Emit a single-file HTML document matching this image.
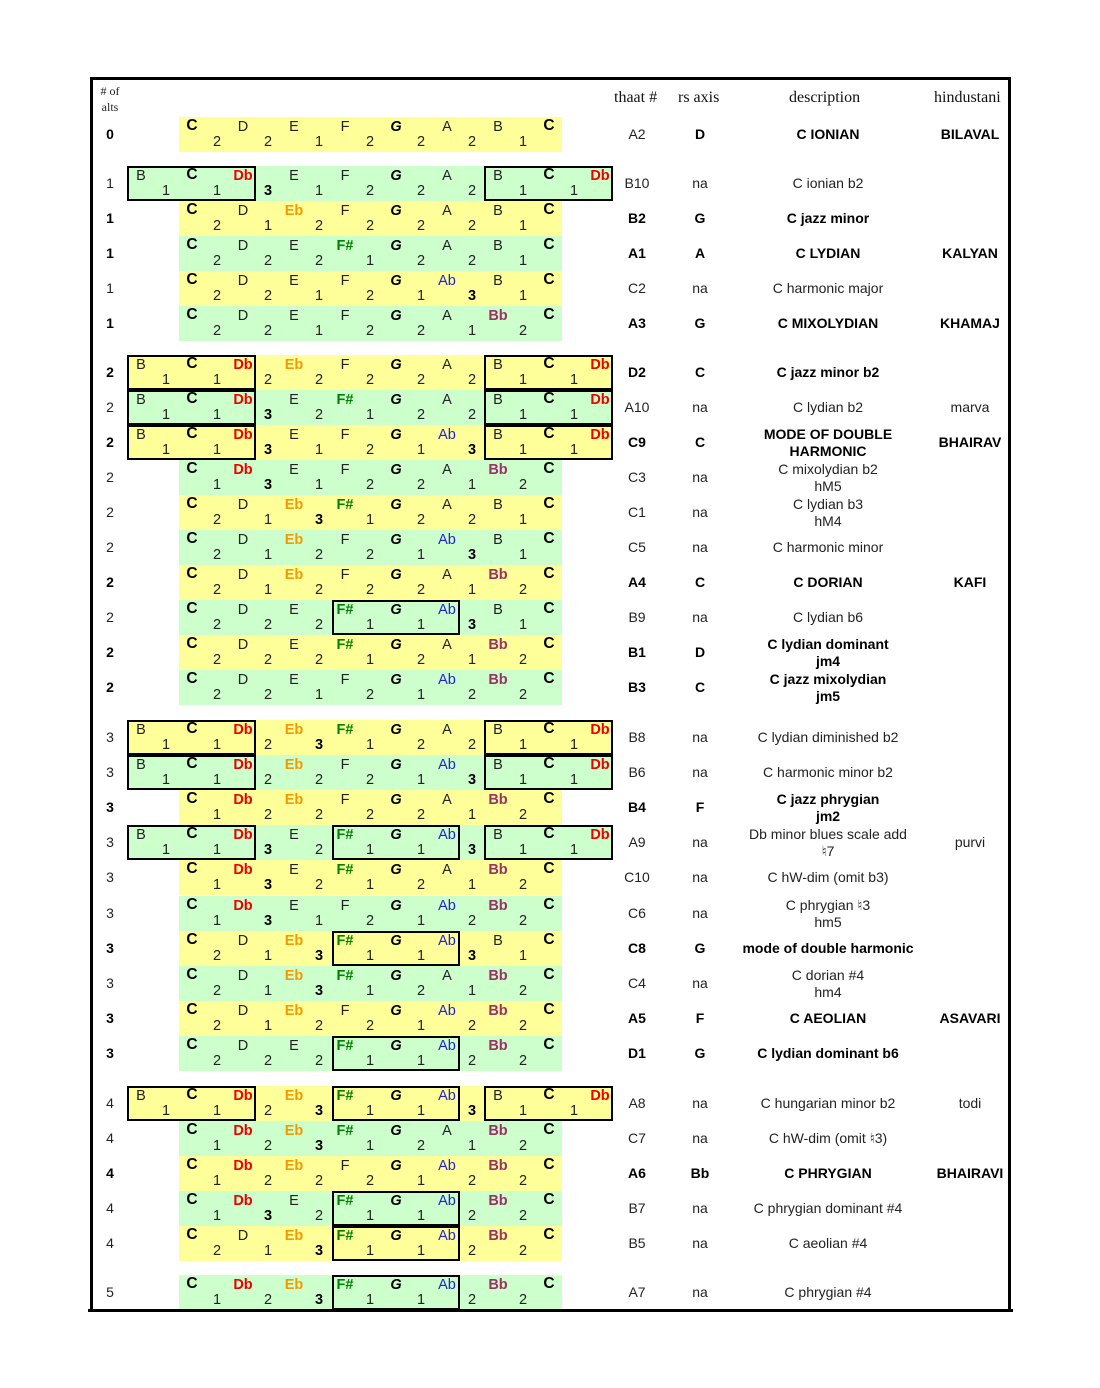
<!DOCTYPE html>
<html><head><meta charset="utf-8"><style>
body{margin:0;width:1100px;height:1388px;background:#fff;position:relative;font-family:"Liberation Sans",Arial,sans-serif;overflow:hidden}
#fr{position:absolute;left:90px;top:77px;width:915px;height:1229px;border:3px solid #000}
.r{position:absolute;left:0;width:1100px;height:35px}
.bd{position:absolute;left:179px;width:383px;top:0;height:35px}
.x .bd{left:127px;width:486px}
.Y .bd{background:#ffff99}.G .bd{background:#ccffcc}
.bx{position:absolute;top:0;height:31px;border:2px solid #000}
.lb{left:127px;width:125px}.rb{left:484px;width:125px}.mb{left:332px;width:124px}
.r span{position:absolute;width:50px;text-align:center;font-size:14.5px;line-height:16px;color:#222}
.r span.t{top:1.5px}.r span.i{top:17px}
.p0{left:116px}.p1{left:167px}.p2{left:218px}.p3{left:269px}.p4{left:320px}.p5{left:371px}.p6{left:422px}.p7{left:473px}.p8{left:524px}.p9{left:575px}
.q0{left:141px}.q1{left:192px}.q2{left:243px}.q3{left:294px}.q4{left:345px}.q5{left:396px}.q6{left:447px}.q7{left:498px}.q8{left:549px}
.r span.c{font-weight:bold;color:#000;font-size:15.5px;top:0.5px}
.r span.g{font-weight:bold;font-style:italic;color:#000}
.r span.db{font-weight:bold;color:#ee0000}
.r span.eb{font-weight:bold;color:#f39a00}
.r span.fs{font-weight:bold;color:#008000}
.r span.ab{color:#2222dd}
.r span.bb{font-weight:bold;color:#993366}
.r span.b3{font-weight:bold;color:#000}
.r div.k{position:absolute;text-align:center;font-size:14px;color:#222;line-height:35px;top:0}
.r div.k2{line-height:17px;top:0.5px}
.al{left:95px;width:30px}.th{left:612px;width:50px}.rs{left:675px;width:50px}.de{left:723px;width:210px}.hi{left:925px;width:90px}
.b{font-weight:bold;color:#000!important}
.hd{position:absolute;font-family:"Liberation Serif",serif;font-size:16px;color:#111;top:89px}
</style></head><body>
<div id="fr"></div>
<div style="position:absolute;left:95px;top:83px;font-family:'Liberation Serif',serif;font-size:12px;line-height:16px;color:#222;text-align:center;width:30px">#&nbsp;of<br>alts</div>
<div class="hd" style="left:614px">thaat #</div>
<div class="hd" style="left:678px">rs axis</div>
<div class="hd" style="left:789px">description</div>
<div class="hd" style="left:934px">hindustani</div>

<div class="r Y" style="top:117px"><div class="bd"></div>
<span class="t c p1">C</span><span class="t p2">D</span><span class="t p3">E</span><span class="t p4">F</span><span class="t g p5">G</span><span class="t p6">A</span><span class="t p7">B</span><span class="t c p8">C</span>
<span class="i q1">2</span><span class="i q2">2</span><span class="i q3">1</span><span class="i q4">2</span><span class="i q5">2</span><span class="i q6">2</span><span class="i q7">1</span>
<div class="k al b">0</div><div class="k th">A2</div><div class="k rs b">D</div><div class="k de b">C IONIAN</div><div class="k hi b">BILAVAL</div></div>

<div class="r G x" style="top:166px"><div class="bd"></div><div class="bx lb"></div><div class="bx rb"></div>
<span class="t p0">B</span><span class="t c p1">C</span><span class="t db p2">Db</span><span class="t p3">E</span><span class="t p4">F</span><span class="t g p5">G</span><span class="t p6">A</span><span class="t p7">B</span><span class="t c p8">C</span><span class="t db p9">Db</span>
<span class="i q0">1</span><span class="i q1">1</span><span class="i b3 q2">3</span><span class="i q3">1</span><span class="i q4">2</span><span class="i q5">2</span><span class="i q6">2</span><span class="i q7">1</span><span class="i q8">1</span>
<div class="k al">1</div><div class="k th">B10</div><div class="k rs">na</div><div class="k de">C ionian b2</div></div>

<div class="r Y" style="top:201px"><div class="bd"></div>
<span class="t c p1">C</span><span class="t p2">D</span><span class="t eb p3">Eb</span><span class="t p4">F</span><span class="t g p5">G</span><span class="t p6">A</span><span class="t p7">B</span><span class="t c p8">C</span>
<span class="i q1">2</span><span class="i q2">1</span><span class="i q3">2</span><span class="i q4">2</span><span class="i q5">2</span><span class="i q6">2</span><span class="i q7">1</span>
<div class="k al b">1</div><div class="k th b">B2</div><div class="k rs b">G</div><div class="k de b">C jazz minor</div></div>

<div class="r G" style="top:236px"><div class="bd"></div>
<span class="t c p1">C</span><span class="t p2">D</span><span class="t p3">E</span><span class="t fs p4">F#</span><span class="t g p5">G</span><span class="t p6">A</span><span class="t p7">B</span><span class="t c p8">C</span>
<span class="i q1">2</span><span class="i q2">2</span><span class="i q3">2</span><span class="i q4">1</span><span class="i q5">2</span><span class="i q6">2</span><span class="i q7">1</span>
<div class="k al b">1</div><div class="k th b">A1</div><div class="k rs b">A</div><div class="k de b">C LYDIAN</div><div class="k hi b">KALYAN</div></div>

<div class="r Y" style="top:271px"><div class="bd"></div>
<span class="t c p1">C</span><span class="t p2">D</span><span class="t p3">E</span><span class="t p4">F</span><span class="t g p5">G</span><span class="t ab p6">Ab</span><span class="t p7">B</span><span class="t c p8">C</span>
<span class="i q1">2</span><span class="i q2">2</span><span class="i q3">1</span><span class="i q4">2</span><span class="i q5">1</span><span class="i b3 q6">3</span><span class="i q7">1</span>
<div class="k al">1</div><div class="k th">C2</div><div class="k rs">na</div><div class="k de">C harmonic major</div></div>

<div class="r G" style="top:306px"><div class="bd"></div>
<span class="t c p1">C</span><span class="t p2">D</span><span class="t p3">E</span><span class="t p4">F</span><span class="t g p5">G</span><span class="t p6">A</span><span class="t bb p7">Bb</span><span class="t c p8">C</span>
<span class="i q1">2</span><span class="i q2">2</span><span class="i q3">1</span><span class="i q4">2</span><span class="i q5">2</span><span class="i q6">1</span><span class="i q7">2</span>
<div class="k al b">1</div><div class="k th b">A3</div><div class="k rs b">G</div><div class="k de b">C MIXOLYDIAN</div><div class="k hi b">KHAMAJ</div></div>

<div class="r Y x" style="top:355px"><div class="bd"></div><div class="bx lb"></div><div class="bx rb"></div>
<span class="t p0">B</span><span class="t c p1">C</span><span class="t db p2">Db</span><span class="t eb p3">Eb</span><span class="t p4">F</span><span class="t g p5">G</span><span class="t p6">A</span><span class="t p7">B</span><span class="t c p8">C</span><span class="t db p9">Db</span>
<span class="i q0">1</span><span class="i q1">1</span><span class="i q2">2</span><span class="i q3">2</span><span class="i q4">2</span><span class="i q5">2</span><span class="i q6">2</span><span class="i q7">1</span><span class="i q8">1</span>
<div class="k al b">2</div><div class="k th b">D2</div><div class="k rs b">C</div><div class="k de b">C jazz minor b2</div></div>

<div class="r G x" style="top:390px"><div class="bd"></div><div class="bx lb"></div><div class="bx rb"></div>
<span class="t p0">B</span><span class="t c p1">C</span><span class="t db p2">Db</span><span class="t p3">E</span><span class="t fs p4">F#</span><span class="t g p5">G</span><span class="t p6">A</span><span class="t p7">B</span><span class="t c p8">C</span><span class="t db p9">Db</span>
<span class="i q0">1</span><span class="i q1">1</span><span class="i b3 q2">3</span><span class="i q3">2</span><span class="i q4">1</span><span class="i q5">2</span><span class="i q6">2</span><span class="i q7">1</span><span class="i q8">1</span>
<div class="k al">2</div><div class="k th">A10</div><div class="k rs">na</div><div class="k de">C lydian b2</div><div class="k hi">marva</div></div>

<div class="r Y x" style="top:425px"><div class="bd"></div><div class="bx lb"></div><div class="bx rb"></div>
<span class="t p0">B</span><span class="t c p1">C</span><span class="t db p2">Db</span><span class="t p3">E</span><span class="t p4">F</span><span class="t g p5">G</span><span class="t ab p6">Ab</span><span class="t p7">B</span><span class="t c p8">C</span><span class="t db p9">Db</span>
<span class="i q0">1</span><span class="i q1">1</span><span class="i b3 q2">3</span><span class="i q3">1</span><span class="i q4">2</span><span class="i q5">1</span><span class="i b3 q6">3</span><span class="i q7">1</span><span class="i q8">1</span>
<div class="k al b">2</div><div class="k th b">C9</div><div class="k rs b">C</div><div class="k k2 de b">MODE OF DOUBLE<br>HARMONIC</div><div class="k hi b">BHAIRAV</div></div>

<div class="r G" style="top:460px"><div class="bd"></div>
<span class="t c p1">C</span><span class="t db p2">Db</span><span class="t p3">E</span><span class="t p4">F</span><span class="t g p5">G</span><span class="t p6">A</span><span class="t bb p7">Bb</span><span class="t c p8">C</span>
<span class="i q1">1</span><span class="i b3 q2">3</span><span class="i q3">1</span><span class="i q4">2</span><span class="i q5">2</span><span class="i q6">1</span><span class="i q7">2</span>
<div class="k al">2</div><div class="k th">C3</div><div class="k rs">na</div><div class="k k2 de">C mixolydian b2<br>hM5</div></div>

<div class="r Y" style="top:495px"><div class="bd"></div>
<span class="t c p1">C</span><span class="t p2">D</span><span class="t eb p3">Eb</span><span class="t fs p4">F#</span><span class="t g p5">G</span><span class="t p6">A</span><span class="t p7">B</span><span class="t c p8">C</span>
<span class="i q1">2</span><span class="i q2">1</span><span class="i b3 q3">3</span><span class="i q4">1</span><span class="i q5">2</span><span class="i q6">2</span><span class="i q7">1</span>
<div class="k al">2</div><div class="k th">C1</div><div class="k rs">na</div><div class="k k2 de">C lydian b3<br>hM4</div></div>

<div class="r G" style="top:530px"><div class="bd"></div>
<span class="t c p1">C</span><span class="t p2">D</span><span class="t eb p3">Eb</span><span class="t p4">F</span><span class="t g p5">G</span><span class="t ab p6">Ab</span><span class="t p7">B</span><span class="t c p8">C</span>
<span class="i q1">2</span><span class="i q2">1</span><span class="i q3">2</span><span class="i q4">2</span><span class="i q5">1</span><span class="i b3 q6">3</span><span class="i q7">1</span>
<div class="k al">2</div><div class="k th">C5</div><div class="k rs">na</div><div class="k de">C harmonic minor</div></div>

<div class="r Y" style="top:565px"><div class="bd"></div>
<span class="t c p1">C</span><span class="t p2">D</span><span class="t eb p3">Eb</span><span class="t p4">F</span><span class="t g p5">G</span><span class="t p6">A</span><span class="t bb p7">Bb</span><span class="t c p8">C</span>
<span class="i q1">2</span><span class="i q2">1</span><span class="i q3">2</span><span class="i q4">2</span><span class="i q5">2</span><span class="i q6">1</span><span class="i q7">2</span>
<div class="k al b">2</div><div class="k th b">A4</div><div class="k rs b">C</div><div class="k de b">C DORIAN</div><div class="k hi b">KAFI</div></div>

<div class="r G" style="top:600px"><div class="bd"></div><div class="bx mb"></div>
<span class="t c p1">C</span><span class="t p2">D</span><span class="t p3">E</span><span class="t fs p4">F#</span><span class="t g p5">G</span><span class="t ab p6">Ab</span><span class="t p7">B</span><span class="t c p8">C</span>
<span class="i q1">2</span><span class="i q2">2</span><span class="i q3">2</span><span class="i q4">1</span><span class="i q5">1</span><span class="i b3 q6">3</span><span class="i q7">1</span>
<div class="k al">2</div><div class="k th">B9</div><div class="k rs">na</div><div class="k de">C lydian b6</div></div>

<div class="r Y" style="top:635px"><div class="bd"></div>
<span class="t c p1">C</span><span class="t p2">D</span><span class="t p3">E</span><span class="t fs p4">F#</span><span class="t g p5">G</span><span class="t p6">A</span><span class="t bb p7">Bb</span><span class="t c p8">C</span>
<span class="i q1">2</span><span class="i q2">2</span><span class="i q3">2</span><span class="i q4">1</span><span class="i q5">2</span><span class="i q6">1</span><span class="i q7">2</span>
<div class="k al b">2</div><div class="k th b">B1</div><div class="k rs b">D</div><div class="k k2 de b">C lydian dominant<br>jm4</div></div>

<div class="r G" style="top:670px"><div class="bd"></div>
<span class="t c p1">C</span><span class="t p2">D</span><span class="t p3">E</span><span class="t p4">F</span><span class="t g p5">G</span><span class="t ab p6">Ab</span><span class="t bb p7">Bb</span><span class="t c p8">C</span>
<span class="i q1">2</span><span class="i q2">2</span><span class="i q3">1</span><span class="i q4">2</span><span class="i q5">1</span><span class="i q6">2</span><span class="i q7">2</span>
<div class="k al b">2</div><div class="k th b">B3</div><div class="k rs b">C</div><div class="k k2 de b">C jazz mixolydian<br>jm5</div></div>

<div class="r Y x" style="top:720px"><div class="bd"></div><div class="bx lb"></div><div class="bx rb"></div>
<span class="t p0">B</span><span class="t c p1">C</span><span class="t db p2">Db</span><span class="t eb p3">Eb</span><span class="t fs p4">F#</span><span class="t g p5">G</span><span class="t p6">A</span><span class="t p7">B</span><span class="t c p8">C</span><span class="t db p9">Db</span>
<span class="i q0">1</span><span class="i q1">1</span><span class="i q2">2</span><span class="i b3 q3">3</span><span class="i q4">1</span><span class="i q5">2</span><span class="i q6">2</span><span class="i q7">1</span><span class="i q8">1</span>
<div class="k al">3</div><div class="k th">B8</div><div class="k rs">na</div><div class="k de">C lydian diminished b2</div></div>

<div class="r G x" style="top:755px"><div class="bd"></div><div class="bx lb"></div><div class="bx rb"></div>
<span class="t p0">B</span><span class="t c p1">C</span><span class="t db p2">Db</span><span class="t eb p3">Eb</span><span class="t p4">F</span><span class="t g p5">G</span><span class="t ab p6">Ab</span><span class="t p7">B</span><span class="t c p8">C</span><span class="t db p9">Db</span>
<span class="i q0">1</span><span class="i q1">1</span><span class="i q2">2</span><span class="i q3">2</span><span class="i q4">2</span><span class="i q5">1</span><span class="i b3 q6">3</span><span class="i q7">1</span><span class="i q8">1</span>
<div class="k al">3</div><div class="k th">B6</div><div class="k rs">na</div><div class="k de">C harmonic minor b2</div></div>

<div class="r Y" style="top:790px"><div class="bd"></div>
<span class="t c p1">C</span><span class="t db p2">Db</span><span class="t eb p3">Eb</span><span class="t p4">F</span><span class="t g p5">G</span><span class="t p6">A</span><span class="t bb p7">Bb</span><span class="t c p8">C</span>
<span class="i q1">1</span><span class="i q2">2</span><span class="i q3">2</span><span class="i q4">2</span><span class="i q5">2</span><span class="i q6">1</span><span class="i q7">2</span>
<div class="k al b">3</div><div class="k th b">B4</div><div class="k rs b">F</div><div class="k k2 de b">C jazz phrygian<br>jm2</div></div>

<div class="r G x" style="top:825px"><div class="bd"></div><div class="bx lb"></div><div class="bx rb"></div><div class="bx mb"></div>
<span class="t p0">B</span><span class="t c p1">C</span><span class="t db p2">Db</span><span class="t p3">E</span><span class="t fs p4">F#</span><span class="t g p5">G</span><span class="t ab p6">Ab</span><span class="t p7">B</span><span class="t c p8">C</span><span class="t db p9">Db</span>
<span class="i q0">1</span><span class="i q1">1</span><span class="i b3 q2">3</span><span class="i q3">2</span><span class="i q4">1</span><span class="i q5">1</span><span class="i b3 q6">3</span><span class="i q7">1</span><span class="i q8">1</span>
<div class="k al">3</div><div class="k th">A9</div><div class="k rs">na</div><div class="k k2 de">Db minor blues scale add<br>♮7</div><div class="k hi">purvi</div></div>

<div class="r Y" style="top:860px"><div class="bd"></div>
<span class="t c p1">C</span><span class="t db p2">Db</span><span class="t p3">E</span><span class="t fs p4">F#</span><span class="t g p5">G</span><span class="t p6">A</span><span class="t bb p7">Bb</span><span class="t c p8">C</span>
<span class="i q1">1</span><span class="i b3 q2">3</span><span class="i q3">2</span><span class="i q4">1</span><span class="i q5">2</span><span class="i q6">1</span><span class="i q7">2</span>
<div class="k al">3</div><div class="k th">C10</div><div class="k rs">na</div><div class="k de">C hW-dim (omit b3)</div></div>

<div class="r G" style="top:896px"><div class="bd"></div>
<span class="t c p1">C</span><span class="t db p2">Db</span><span class="t p3">E</span><span class="t p4">F</span><span class="t g p5">G</span><span class="t ab p6">Ab</span><span class="t bb p7">Bb</span><span class="t c p8">C</span>
<span class="i q1">1</span><span class="i b3 q2">3</span><span class="i q3">1</span><span class="i q4">2</span><span class="i q5">1</span><span class="i q6">2</span><span class="i q7">2</span>
<div class="k al">3</div><div class="k th">C6</div><div class="k rs">na</div><div class="k k2 de">C phrygian ♮3<br>hm5</div></div>

<div class="r Y" style="top:931px"><div class="bd"></div><div class="bx mb"></div>
<span class="t c p1">C</span><span class="t p2">D</span><span class="t eb p3">Eb</span><span class="t fs p4">F#</span><span class="t g p5">G</span><span class="t ab p6">Ab</span><span class="t p7">B</span><span class="t c p8">C</span>
<span class="i q1">2</span><span class="i q2">1</span><span class="i b3 q3">3</span><span class="i q4">1</span><span class="i q5">1</span><span class="i b3 q6">3</span><span class="i q7">1</span>
<div class="k al b">3</div><div class="k th b">C8</div><div class="k rs b">G</div><div class="k de b">mode of double harmonic</div></div>

<div class="r G" style="top:966px"><div class="bd"></div>
<span class="t c p1">C</span><span class="t p2">D</span><span class="t eb p3">Eb</span><span class="t fs p4">F#</span><span class="t g p5">G</span><span class="t p6">A</span><span class="t bb p7">Bb</span><span class="t c p8">C</span>
<span class="i q1">2</span><span class="i q2">1</span><span class="i b3 q3">3</span><span class="i q4">1</span><span class="i q5">2</span><span class="i q6">1</span><span class="i q7">2</span>
<div class="k al">3</div><div class="k th">C4</div><div class="k rs">na</div><div class="k k2 de">C dorian #4<br>hm4</div></div>

<div class="r Y" style="top:1001px"><div class="bd"></div>
<span class="t c p1">C</span><span class="t p2">D</span><span class="t eb p3">Eb</span><span class="t p4">F</span><span class="t g p5">G</span><span class="t ab p6">Ab</span><span class="t bb p7">Bb</span><span class="t c p8">C</span>
<span class="i q1">2</span><span class="i q2">1</span><span class="i q3">2</span><span class="i q4">2</span><span class="i q5">1</span><span class="i q6">2</span><span class="i q7">2</span>
<div class="k al b">3</div><div class="k th b">A5</div><div class="k rs b">F</div><div class="k de b">C AEOLIAN</div><div class="k hi b">ASAVARI</div></div>

<div class="r G" style="top:1036px"><div class="bd"></div><div class="bx mb"></div>
<span class="t c p1">C</span><span class="t p2">D</span><span class="t p3">E</span><span class="t fs p4">F#</span><span class="t g p5">G</span><span class="t ab p6">Ab</span><span class="t bb p7">Bb</span><span class="t c p8">C</span>
<span class="i q1">2</span><span class="i q2">2</span><span class="i q3">2</span><span class="i q4">1</span><span class="i q5">1</span><span class="i q6">2</span><span class="i q7">2</span>
<div class="k al b">3</div><div class="k th b">D1</div><div class="k rs b">G</div><div class="k de b">C lydian dominant b6</div></div>

<div class="r Y x" style="top:1086px"><div class="bd"></div><div class="bx lb"></div><div class="bx rb"></div><div class="bx mb"></div>
<span class="t p0">B</span><span class="t c p1">C</span><span class="t db p2">Db</span><span class="t eb p3">Eb</span><span class="t fs p4">F#</span><span class="t g p5">G</span><span class="t ab p6">Ab</span><span class="t p7">B</span><span class="t c p8">C</span><span class="t db p9">Db</span>
<span class="i q0">1</span><span class="i q1">1</span><span class="i q2">2</span><span class="i b3 q3">3</span><span class="i q4">1</span><span class="i q5">1</span><span class="i b3 q6">3</span><span class="i q7">1</span><span class="i q8">1</span>
<div class="k al">4</div><div class="k th">A8</div><div class="k rs">na</div><div class="k de">C hungarian minor b2</div><div class="k hi">todi</div></div>

<div class="r G" style="top:1121px"><div class="bd"></div>
<span class="t c p1">C</span><span class="t db p2">Db</span><span class="t eb p3">Eb</span><span class="t fs p4">F#</span><span class="t g p5">G</span><span class="t p6">A</span><span class="t bb p7">Bb</span><span class="t c p8">C</span>
<span class="i q1">1</span><span class="i q2">2</span><span class="i b3 q3">3</span><span class="i q4">1</span><span class="i q5">2</span><span class="i q6">1</span><span class="i q7">2</span>
<div class="k al">4</div><div class="k th">C7</div><div class="k rs">na</div><div class="k de">C hW-dim (omit ♮3)</div></div>

<div class="r Y" style="top:1156px"><div class="bd"></div>
<span class="t c p1">C</span><span class="t db p2">Db</span><span class="t eb p3">Eb</span><span class="t p4">F</span><span class="t g p5">G</span><span class="t ab p6">Ab</span><span class="t bb p7">Bb</span><span class="t c p8">C</span>
<span class="i q1">1</span><span class="i q2">2</span><span class="i q3">2</span><span class="i q4">2</span><span class="i q5">1</span><span class="i q6">2</span><span class="i q7">2</span>
<div class="k al b">4</div><div class="k th b">A6</div><div class="k rs b">Bb</div><div class="k de b">C PHRYGIAN</div><div class="k hi b">BHAIRAVI</div></div>

<div class="r G" style="top:1191px"><div class="bd"></div><div class="bx mb"></div>
<span class="t c p1">C</span><span class="t db p2">Db</span><span class="t p3">E</span><span class="t fs p4">F#</span><span class="t g p5">G</span><span class="t ab p6">Ab</span><span class="t bb p7">Bb</span><span class="t c p8">C</span>
<span class="i q1">1</span><span class="i b3 q2">3</span><span class="i q3">2</span><span class="i q4">1</span><span class="i q5">1</span><span class="i q6">2</span><span class="i q7">2</span>
<div class="k al">4</div><div class="k th">B7</div><div class="k rs">na</div><div class="k de">C phrygian dominant #4</div></div>

<div class="r Y" style="top:1226px"><div class="bd"></div><div class="bx mb"></div>
<span class="t c p1">C</span><span class="t p2">D</span><span class="t eb p3">Eb</span><span class="t fs p4">F#</span><span class="t g p5">G</span><span class="t ab p6">Ab</span><span class="t bb p7">Bb</span><span class="t c p8">C</span>
<span class="i q1">2</span><span class="i q2">1</span><span class="i b3 q3">3</span><span class="i q4">1</span><span class="i q5">1</span><span class="i q6">2</span><span class="i q7">2</span>
<div class="k al">4</div><div class="k th">B5</div><div class="k rs">na</div><div class="k de">C aeolian #4</div></div>

<div class="r G" style="top:1275px"><div class="bd"></div><div class="bx mb"></div>
<span class="t c p1">C</span><span class="t db p2">Db</span><span class="t eb p3">Eb</span><span class="t fs p4">F#</span><span class="t g p5">G</span><span class="t ab p6">Ab</span><span class="t bb p7">Bb</span><span class="t c p8">C</span>
<span class="i q1">1</span><span class="i q2">2</span><span class="i b3 q3">3</span><span class="i q4">1</span><span class="i q5">1</span><span class="i q6">2</span><span class="i q7">2</span>
<div class="k al">5</div><div class="k th">A7</div><div class="k rs">na</div><div class="k de">C phrygian #4</div></div>

<div style="position:absolute;left:88px;top:1309px;width:925px;height:3px;background:#000"></div>
</body></html>
